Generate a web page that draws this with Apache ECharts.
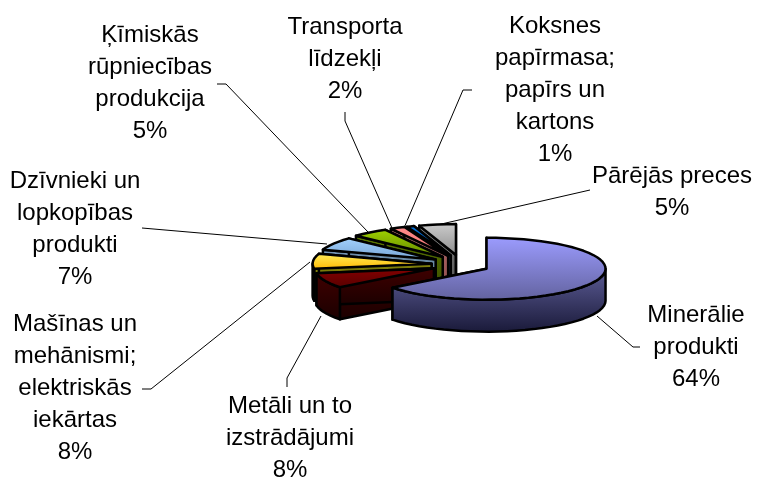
<!DOCTYPE html>
<html>
<head>
<meta charset="utf-8">
<style>
  html, body { margin: 0; padding: 0; background: #fff; }
  #chart { width: 757px; height: 479px; }
</style>
<script src="https://cdn.jsdelivr.net/npm/echarts@6/dist/echarts.min.js"></script>
</head>
<body>
<div id="chart"></div>
<script>
  // clockwise from 12 o'clock
  const categories = [
    'Minerālie\nprodukti',
    'Metāli un to\nizstrādājumi',
    'Mašīnas un\nmehānismi;\nelektriskās\niekārtas',
    'Dzīvnieki un\nlopkopības\nprodukti',
    'Ķīmiskās\nrūpniecības\nprodukcija',
    'Transporta\nlīdzekļi',
    'Koksnes\npapīrmasa;\npapīrs un\nkartons',
    'Pārējās preces'
  ];
  const values = [64.5, 7.9, 7.8, 6.8, 5, 2, 1, 5];
  const percentLabels = ['64%', '8%', '8%', '7%', '5%', '2%', '1%', '5%'];

  // top face gradient, wall gradient
  const topColors = [
    ['#9c9cff', '#62629e'], ['#860000', '#560000'], ['#fff060', '#ffb800'], ['#a4d2ff', '#76a4d4'],
    ['#a0d400', '#628400'], ['#ff8c8c', '#ee7070'], ['#0070dc', '#00509e'], ['#cccccc', '#8c8c8c']
  ];
  const wallColors = [
    ['#5e5e98', '#191938'], ['#400000', '#1a0000'], ['#8a8a10', '#666600'], ['#7898b8', '#587890'],
    ['#5c7800', '#3c5000'], ['#b06868', '#905050'], ['#0058b0', '#004080'], ['#808080', '#555555']
  ];

  // label box centre x, first line centre y
  const labelPos = [[696, 313], [290, 404], [75, 322], [75, 179], [150, 33], [345, 25], [555, 24], [672, 174]];
  const leaders = [
    [[640, 347], [633, 347], [597, 316]],
    [[287, 387], [287, 378], [321, 316]],
    [[142, 389], [151, 389], [310, 262]],
    [[142, 228], [327, 244]],
    [[217, 84], [226, 84], [368, 232]],
    [[345, 112], [345, 121], [392, 228]],
    [[472, 90], [463, 90], [404, 228]],
    [[590, 190], [437, 225]]
  ];

  const CX = 460.5, CY = 264.5, R = 119, TILT = 0.26, DEPTH = 32, EXPLODE = 29, EXPLODE_TILT = 0.33;
  const total = values.reduce((a, b) => a + b, 0);

  function grad(c) {
    return new echarts.graphic.LinearGradient(0, 0, 0, 1, [
      { offset: 0, color: c[0] }, { offset: 1, color: c[1] }
    ]);
  }
  function face(points, c) {
    return {
      type: 'polygon',
      shape: { points: points },
      style: { fill: grad(c), stroke: '#000', lineWidth: 2.5, lineJoin: 'round' }
    };
  }
  function arc(cx, cy, a0, a1) {
    const pts = [];
    const n = Math.max(2, Math.ceil((a1 - a0) / 0.08));
    for (let i = 0; i <= n; i++) {
      const a = a0 + (a1 - a0) * i / n;
      pts.push([cx + R * Math.sin(a), cy - R * TILT * Math.cos(a)]);
    }
    return pts;
  }
  function down(pts) {
    return pts.map(p => [p[0], p[1] + DEPTH]).reverse();
  }

  function renderSlice(params, api) {
    const i = api.value(0);
    let before = 0;
    for (let k = 0; k < i; k++) before += values[k];
    const a0 = before / total * Math.PI * 2;
    const a1 = (before + api.value(1)) / total * Math.PI * 2;
    const mid = (a0 + a1) / 2;
    const cx = CX + EXPLODE * Math.sin(mid);
    const cy = CY - EXPLODE * EXPLODE_TILT * Math.cos(mid);
    const apex = [cx, cy];
    const top = arc(cx, cy, a0, a1);
    const children = [];
    // radial cut faces first, the top face hides whatever is behind
    [top[0], top[top.length - 1]].forEach(p => {
      children.push(face([apex, p, [p[0], p[1] + DEPTH], [cx, cy + DEPTH]], wallColors[i]));
    });
    // only the part of the rim that faces the viewer
    const f0 = Math.max(a0, Math.PI / 2), f1 = Math.min(a1, Math.PI * 1.5);
    if (f1 > f0) {
      const rim = arc(cx, cy, f0, f1);
      children.push(face(rim.concat(down(rim)), wallColors[i]));
    }
    children.push(face([apex].concat(top), topColors[i]));
    return { type: 'group', children: children };
  }

  const graphics = [];
  leaders.forEach(line => {
    graphics.push({
      type: 'polyline',
      shape: { points: line },
      style: { stroke: '#000', lineWidth: 1, fill: null }
    });
  });
  categories.forEach((name, i) => {
    graphics.push({
      type: 'text',
      x: labelPos[i][0],
      y: labelPos[i][1] - 14,
      style: {
        text: name + '\n' + percentLabels[i],
        fill: '#000',
        font: '24px "Liberation Sans", Arial, sans-serif',
        lineHeight: 32,
        align: 'center',
        verticalAlign: 'top'
      }
    });
  });

  // back slices first so the big one ends up in front
  const order = values.map((v, i) => [i, v]).reverse();

  const myChart = echarts.init(document.getElementById('chart'));
  myChart.setOption({
    animation: false,
    backgroundColor: '#fff',
    graphic: graphics,
    series: [{
      type: 'custom',
      coordinateSystem: 'none',
      renderItem: renderSlice,
      data: order
    }]
  });
</script>
</body>
</html>
